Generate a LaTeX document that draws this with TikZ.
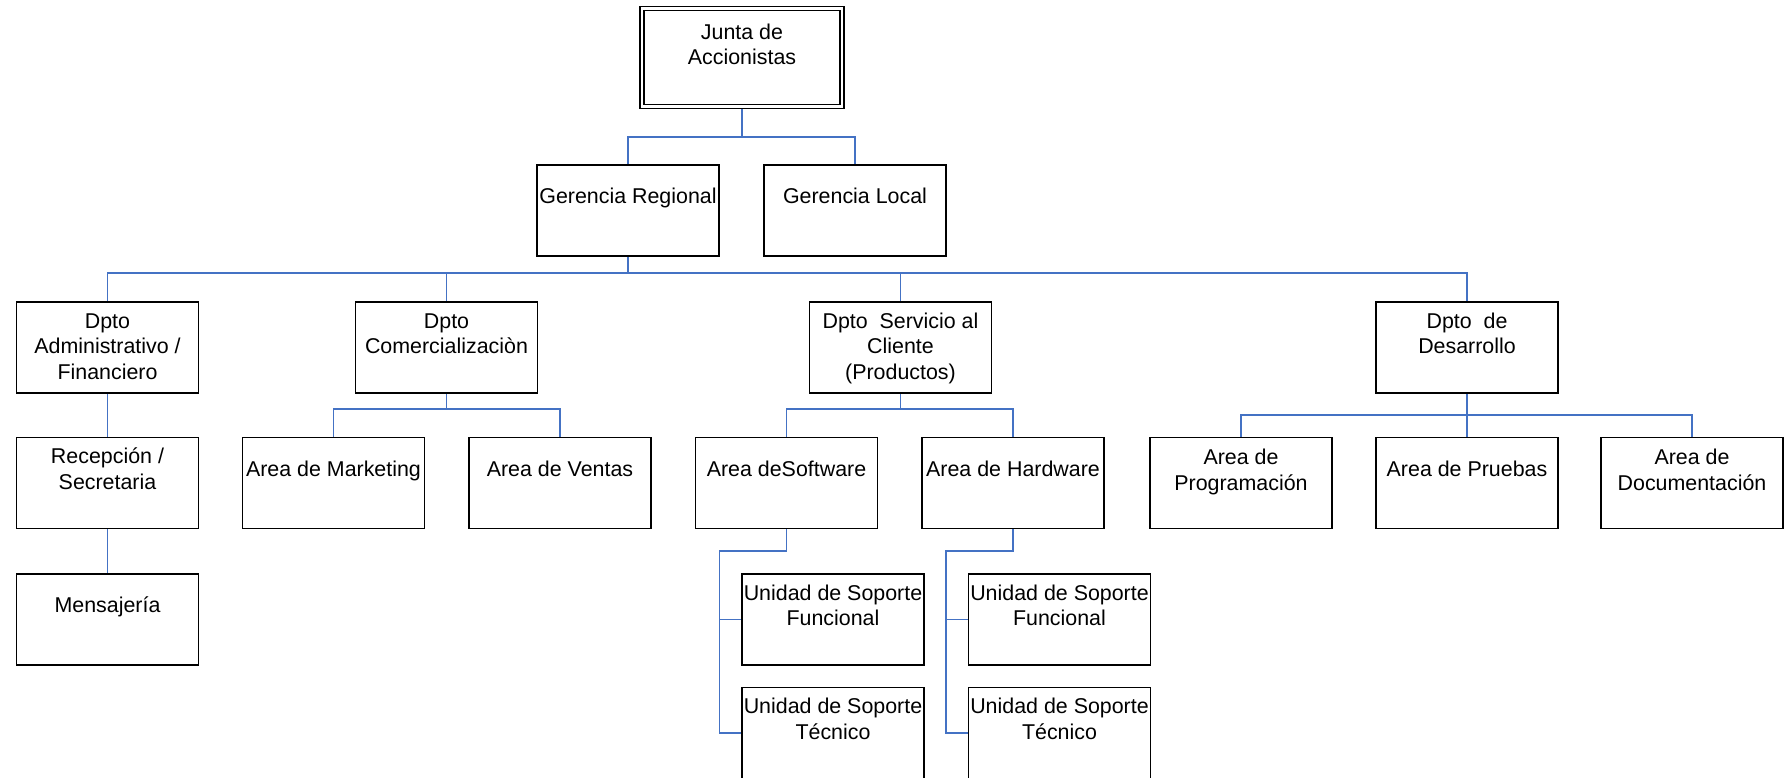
\documentclass[tikz,border=0pt]{standalone}
\usepackage{fontspec}
\setmainfont{Liberation Sans}
\usetikzlibrary{backgrounds}
\definecolor{connblue}{RGB}{68,114,196}
\newcommand{\bxt}[3][182]{\parbox[c][91pt][t]{#1pt}{\centering\rule{0pt}{#2pt}#3}}
\begin{document}
\begin{tikzpicture}[x=1pt,y=-1pt,
  orgbox/.style={draw=black,line width=1.7pt,inner sep=0pt,outer sep=0pt,fill=white,
    font=\fontsize{21.4}{25.5}\selectfont},
  topbox/.style={draw=black,line width=1.5pt,double=white,double distance=2.5pt,inner sep=0pt,outer sep=0pt,
    font=\fontsize{21.4}{24.5}\selectfont},
  conn/.style={draw=connblue,line width=1.5pt}]
\useasboundingbox (0,0) rectangle (1785,777);
\clip (0,0) rectangle (1785,777);
% top
\node[topbox] (J) at (742,57.5) {\parbox[c][98pt][t]{200pt}{\centering\rule{0pt}{31.2pt}Junta de\\Accionistas}};
\node[orgbox] (GR) at (628,210.5) {\bxt{38.5}{Gerencia Regional}};
\node[orgbox] (GL) at (855,210.5) {\bxt{38.5}{Gerencia Local}};
% level 2
\node[orgbox] (A) at (107.5,347.5) {\bxt{26}{Dpto\\Administrativo /\\Financiero}};
\node[orgbox] (C) at (446.5,347.5) {\bxt{26}{Dpto\\Comercializaciòn}};
\node[orgbox] (S) at (900.5,347.5) {\bxt{26}{Dpto\ \ Servicio al\\Cliente\\(Productos)}};
\node[orgbox] (D) at (1467,347.5) {\bxt{26}{Dpto\ \ de\\Desarrollo}};
% level 3
\node[orgbox] (R) at (107.5,483) {\bxt{26}{Recepción /\\Secretaria}};
\node[orgbox] (M) at (107.5,619.5) {\bxt{38.5}{Mensajería}};
\node[orgbox] (MK) at (333.5,483) {\bxt{38.5}{Area de Marketing}};
\node[orgbox] (V) at (560,483) {\bxt{38.5}{Area de Ventas}};
\node[orgbox] (SW) at (786.5,483) {\bxt{38.5}{Area deSoftware}};
\node[orgbox] (HW) at (1013,483) {\bxt{38.5}{Area de Hardware}};
\node[orgbox] (P) at (1241,483) {\bxt{27}{Area de\\Programación}};
\node[orgbox] (PR) at (1467,483) {\bxt{38.5}{Area de Pruebas}};
\node[orgbox] (DC) at (1692,483) {\bxt{27}{Area de\\Documentación}};
% level 4
\node[orgbox] (U1F) at (833,619.5) {\bxt{26}{Unidad de Soporte\\Funcional}};
\node[orgbox] (U1T) at (833,733) {\bxt{26}{Unidad de Soporte\\Técnico}};
\node[orgbox] (U2F) at (1059.5,619.5) {\bxt{26}{Unidad de Soporte\\Funcional}};
\node[orgbox] (U2T) at (1059.5,733) {\bxt{26}{Unidad de Soporte\\Técnico}};
\coordinate (swbus) at (719.5,551);
\coordinate (hwbus) at (946,551);
\begin{scope}[on background layer]
\draw[conn] (J.south) -- (J.south |- 0,137);
\draw[conn] (GR.north) |- (GL.north |- 0,137) -- (GL.north);
\draw[conn] (GR.south) -- (GR.south |- 0,273);
\draw[conn] (A.north) |- (D.north |- 0,273) -- (D.north);
\draw[conn] (C.north) -- (C.north |- 0,273);
\draw[conn] (S.north) -- (S.north |- 0,273);
\draw[conn] (A.south) -- (R.north);
\draw[conn] (R.south) -- (M.north);
\draw[conn] (C.south) -- (C.south |- 0,409);
\draw[conn] (MK.north) |- (V.north |- 0,409) -- (V.north);
\draw[conn] (S.south) -- (S.south |- 0,409);
\draw[conn] (SW.north) |- (HW.north |- 0,409) -- (HW.north);
\draw[conn] (D.south) -- (D.south |- 0,415);
\draw[conn] (P.north) |- (DC.north |- 0,415) -- (DC.north);
\draw[conn] (PR.north) -- (PR.north |- 0,415);
\draw[conn] (SW.south) |- (swbus) |- (U1T.west);
\draw[conn] (swbus |- U1F.west) -- (U1F.west);
\draw[conn] (HW.south) |- (hwbus) |- (U2T.west);
\draw[conn] (hwbus |- U2F.west) -- (U2F.west);
\end{scope}
\end{tikzpicture}
\end{document}
